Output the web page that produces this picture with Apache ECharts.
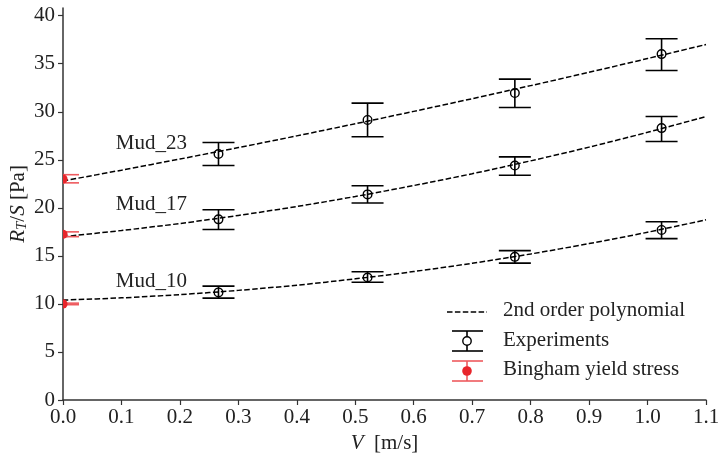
<!DOCTYPE html>
<html>
<head>
<meta charset="utf-8">
<script src="https://cdn.jsdelivr.net/npm/echarts@6/dist/echarts.min.js"></script>
<style>
html,body{margin:0;padding:0;background:#fff;}
#c{width:719px;height:456px;}
</style>
</head>
<body>
<div id="c"></div>
<script>
// ---- data ----
const xTicks = [0, 0.1, 0.2, 0.3, 0.4, 0.5, 0.6, 0.7, 0.8, 0.9, 1.0, 1.1];
const yTicks = [0, 5, 10, 15, 20, 25, 30, 35, 40];

const expX = [0.266, 0.521, 0.773, 1.024];
const mud23 = [25.6, 29.15, 31.95, 36.0];
const mud23Lo = [24.4, 27.4, 30.45, 34.3];
const mud23Hi = [26.8, 30.9, 33.4, 37.6];
const mud17 = [18.8, 21.4, 24.4, 28.3];
const mud17Lo = [17.75, 20.5, 23.4, 26.9];
const mud17Hi = [19.8, 22.3, 25.3, 29.5];
const mud10 = [11.2, 12.75, 14.9, 17.7];
const mud10Lo = [10.6, 12.25, 14.25, 16.8];
const mud10Hi = [11.85, 13.35, 15.55, 18.55];

const binghamX = [0, 0, 0];
const bingham = [23.0, 17.25, 10.0];
const binghamLo = [22.6, 17.0, 9.92];
const binghamHi = [23.45, 17.5, 10.08];

const polyX = [0, 0.1, 0.2, 0.3, 0.4, 0.5, 0.6, 0.7, 0.8, 0.9, 1.0, 1.1];
const poly23 = [22.8, 23.92, 25.08, 26.27, 27.49, 28.75, 30.04, 31.36, 32.72, 34.11, 35.54, 37.0];
const poly17 = [17.0, 17.64, 18.37, 19.21, 20.14, 21.18, 22.32, 23.55, 24.89, 26.32, 27.86, 29.5];
const poly10 = [10.4, 10.63, 10.97, 11.41, 11.95, 12.61, 13.37, 14.23, 15.2, 16.28, 17.46, 18.75];

const mudNames = ['Mud_23', 'Mud_17', 'Mud_10'];
const mudLabelX = [0.212, 0.212, 0.212];
const mudLabelY = [26.7, 20.3, 12.3];

const legendNames = ['2nd order polynomial', 'Experiments', 'Bingham yield stress'];

// ---- build ----
const FONT = "'Liberation Serif', 'DejaVu Serif', serif";
const FS = 21;
const AX = '#333333';
const RED = '#e8252b';
const RED_BAR = '#ee5a5e';

function zip2(xs, ys) { return xs.map((x, i) => [x, ys[i]]); }
function zip4(xs, ys, lo, hi) { return xs.map((x, i) => [x, ys[i], lo[i], hi[i]]); }

const expData = [].concat(
  zip4(expX, mud23, mud23Lo, mud23Hi),
  zip4(expX, mud17, mud17Lo, mud17Hi),
  zip4(expX, mud10, mud10Lo, mud10Hi)
);
const bingData = zip4(binghamX, bingham, binghamLo, binghamHi);

const CAP = 16;

function errRender(color, barColor, filled) {
  return function (params, api) {
    const x = api.value(0), y = api.value(1), lo = api.value(2), hi = api.value(3);
    const p = api.coord([x, y]);
    const pl = api.coord([x, lo]);
    const ph = api.coord([x, hi]);
    const st = { stroke: barColor, lineWidth: 1.6, fill: null };
    const children = [
      { type: 'line', shape: { x1: pl[0], y1: pl[1], x2: ph[0], y2: ph[1] }, style: st },
      { type: 'line', shape: { x1: pl[0] - CAP, y1: pl[1], x2: pl[0] + CAP, y2: pl[1] }, style: st },
      { type: 'line', shape: { x1: ph[0] - CAP, y1: ph[1], x2: ph[0] + CAP, y2: ph[1] }, style: st }
    ];
    if (filled) {
      children.push({ type: 'circle', shape: { cx: p[0], cy: p[1], r: 4.6 }, style: { fill: color, stroke: null } });
    } else {
      children.push({ type: 'circle', shape: { cx: p[0], cy: p[1], r: 4.3 }, style: { fill: null, stroke: color, lineWidth: 1.4 } });
    }
    return { type: 'group', children: children };
  };
}

const dashStyle = { color: '#000', width: 1.5, type: [5.5, 2.4] };

function polySeries(ys) {
  return {
    type: 'line', data: zip2(polyX, ys), smooth: 0.3, symbol: 'none',
    lineStyle: dashStyle, z: 3, silent: true, clip: true
  };
}

// legend drawn as graphic items (layout only)
const LX = 447, LTX = 503;
const legendGraphic = [
  { type: 'line', shape: { x1: LX, y1: 312, x2: LX + 40, y2: 312 }, style: { stroke: '#000', lineWidth: 1.5, lineDash: [5.5, 2.4] } },
  { type: 'text', left: LTX, top: 300, style: { text: legendNames[0], font: FS + 'px ' + FONT, fill: '#222' } },
  { type: 'line', shape: { x1: 452, y1: 331, x2: 483, y2: 331 }, style: { stroke: '#000', lineWidth: 1.6 } },
  { type: 'line', shape: { x1: 452, y1: 351, x2: 483, y2: 351 }, style: { stroke: '#000', lineWidth: 1.6 } },
  { type: 'line', shape: { x1: 467, y1: 331, x2: 467, y2: 351 }, style: { stroke: '#000', lineWidth: 1.6 } },
  { type: 'circle', shape: { cx: 467, cy: 341, r: 4.2 }, style: { fill: '#fff', stroke: '#000', lineWidth: 1.4 } },
  { type: 'text', left: LTX, top: 330, style: { text: legendNames[1], font: FS + 'px ' + FONT, fill: '#222' } },
  { type: 'line', shape: { x1: 452, y1: 361, x2: 483, y2: 361 }, style: { stroke: RED_BAR, lineWidth: 1.6 } },
  { type: 'line', shape: { x1: 452, y1: 381, x2: 483, y2: 381 }, style: { stroke: RED_BAR, lineWidth: 1.6 } },
  { type: 'line', shape: { x1: 467, y1: 361, x2: 467, y2: 381 }, style: { stroke: RED_BAR, lineWidth: 1.6 } },
  { type: 'circle', shape: { cx: 467, cy: 371, r: 4.8 }, style: { fill: RED, stroke: null } },
  { type: 'text', left: LTX, top: 359, style: { text: legendNames[2], font: FS + 'px ' + FONT, fill: '#222' } }
];

const chart = echarts.init(document.getElementById('c'), null, { renderer: 'canvas' });
chart.setOption({
  animation: false,
  backgroundColor: '#fff',
  grid: { left: 63, right: 13, top: 8, bottom: 56, containLabel: false, outerBoundsMode: 'none' },
  xAxis: {
    type: 'value', min: 0, max: 1.1,
    name: '{i|V}{n|  [m/s]}', nameLocation: 'middle', nameGap: 30,
    nameTextStyle: {
      rich: {
        i: { fontFamily: FONT, fontSize: FS, fontStyle: 'italic', color: '#222' },
        n: { fontFamily: FONT, fontSize: FS, color: '#222' }
      }
    },
    axisLine: { show: true, onZero: false, lineStyle: { color: AX, width: 1.5 } },
    axisTick: { show: true, customValues: xTicks, length: 5, inside: false, lineStyle: { color: AX, width: 1.2 } },
    axisLabel: {
      customValues: xTicks, formatter: v => v.toFixed(1), margin: 7,
      fontFamily: FONT, fontSize: FS, color: '#222'
    },
    splitLine: { show: false }
  },
  yAxis: {
    type: 'value', min: 0, max: 40.8,
    name: '{i|R}{sub|T}{n|/}{i|S}{n| [Pa]}', nameLocation: 'middle', nameGap: 33, nameRotate: 90,
    nameMoveOverlap: false,
    nameTextStyle: {
      rich: {
        i: { fontFamily: FONT, fontSize: FS, fontStyle: 'italic', color: '#222' },
        n: { fontFamily: FONT, fontSize: FS, color: '#222' },
        sub: { fontFamily: FONT, fontSize: 15, fontStyle: 'italic', color: '#222', verticalAlign: 'bottom', padding: [8, 0, 0, 0] }
      }
    },
    axisLine: { show: true, onZero: false, lineStyle: { color: AX, width: 1.5 } },
    axisTick: { show: true, customValues: yTicks, length: 5, inside: false, lineStyle: { color: AX, width: 1.2 } },
    axisLabel: {
      customValues: yTicks, margin: 8,
      fontFamily: FONT, fontSize: FS, color: '#222'
    },
    splitLine: { show: false }
  },
  graphic: legendGraphic,
  series: [
    polySeries(poly23),
    polySeries(poly17),
    polySeries(poly10),
    {
      type: 'custom', data: expData, renderItem: errRender('#000', '#000', false),
      clip: true, z: 4, silent: true
    },
    {
      type: 'custom', data: bingData, renderItem: errRender(RED, RED_BAR, true),
      clip: true, z: 5, silent: true
    },
    {
      type: 'custom',
      data: mudNames.map((n, i) => [mudLabelX[i], mudLabelY[i], i]),
      renderItem: function (params, api) {
        const p = api.coord([api.value(0), api.value(1)]);
        return {
          type: 'text', x: p[0], y: p[1],
          style: { text: mudNames[api.value(2)], font: FS + 'px ' + FONT, fill: '#222', align: 'right', verticalAlign: 'middle' }
        };
      },
      z: 6, silent: true
    }
  ]
});
</script>
</body>
</html>
